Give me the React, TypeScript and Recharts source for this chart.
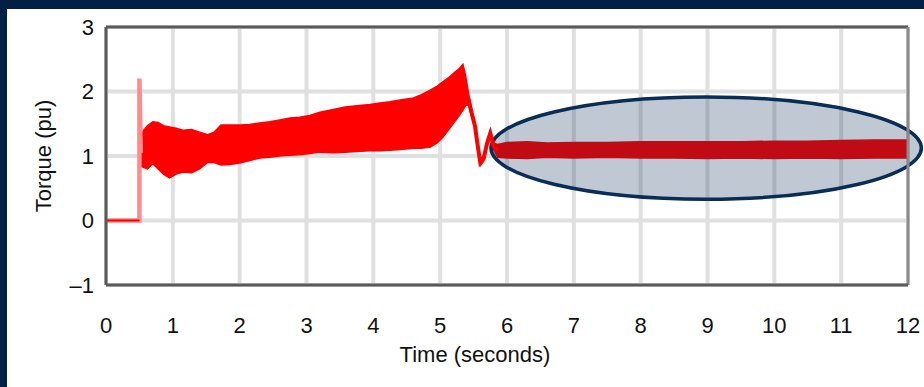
import React from "react";
import {
  ComposedChart,
  Area,
  Line,
  XAxis,
  YAxis,
  CartesianGrid,
  ReferenceLine,
  ReferenceArea,
  Label,
} from "recharts";

// ---- data ----
const xTicks = [0, 1, 2, 3, 4, 5, 6, 7, 8, 9, 10, 11, 12];
const yTicks = [-1, 0, 1, 2, 3];

// oscillating torque envelope (seconds, lower / upper bound in pu)
const bandTime = [
  0.51, 0.55, 0.62, 0.7, 0.78, 0.86, 0.95, 1.05, 1.15, 1.28, 1.4, 1.52, 1.62, 1.72, 1.85, 2.0,
  2.15, 2.3, 2.45, 2.6, 2.75, 2.9, 3.05, 3.2, 3.4, 3.58, 3.75, 3.95, 4.1, 4.25, 4.4, 4.6, 4.72,
  4.85, 4.95, 5.04, 5.12, 5.2, 5.28, 5.34, 5.38, 5.42, 5.47, 5.52, 5.56, 5.6, 5.65, 5.7, 5.75,
  5.8, 5.86, 6.0, 6.3, 6.6, 7.0, 7.5, 8.0, 8.5, 9.0, 9.5, 10.0, 10.5, 11.0, 11.5, 12.0,
];
const bandLow = [
  0.85, 0.83, 0.8, 0.88, 0.8, 0.72, 0.66, 0.72, 0.75, 0.74, 0.8, 0.9, 0.9, 0.86, 0.87, 0.89,
  0.93, 0.97, 0.98, 1.0, 1.01, 1.02, 1.04, 1.06, 1.05, 1.06, 1.07, 1.08, 1.08, 1.09, 1.1, 1.12,
  1.12, 1.14, 1.2, 1.29, 1.4, 1.51, 1.62, 1.71, 1.78, 1.8, 1.62, 1.42, 1.12, 0.85, 0.92, 1.14,
  1.3, 1.1, 0.98, 0.97, 0.96, 0.98, 0.97, 0.98, 0.97, 0.97, 0.96, 0.97, 0.96, 0.97, 0.96, 0.97,
  0.97,
];
const bandHigh = [
  1.3, 1.38, 1.47, 1.53, 1.52, 1.47, 1.45, 1.43, 1.4, 1.41, 1.37, 1.33, 1.37, 1.48, 1.48, 1.48,
  1.49, 1.51, 1.53, 1.56, 1.59, 1.6, 1.63, 1.68, 1.72, 1.76, 1.78, 1.8, 1.82, 1.84, 1.87, 1.9,
  1.95, 2.02, 2.08, 2.15, 2.21, 2.28, 2.35, 2.42, 2.25, 2.0, 1.72, 1.52, 1.22, 0.95, 1.0, 1.24,
  1.4, 1.2, 1.18, 1.21, 1.22, 1.2, 1.21, 1.21, 1.22, 1.22, 1.22, 1.22, 1.23, 1.23, 1.24, 1.25,
  1.25,
];

// single trace after the peak
const traceTime = [5.42, 5.47, 5.52, 5.56, 5.6, 5.65, 5.7, 5.75, 5.8, 5.86];
const traceTorque = [1.9, 1.67, 1.47, 1.17, 0.9, 0.96, 1.19, 1.35, 1.15, 1.08];

// start-up: zero torque, then the step spike
const startTime = [0, 0.5, 0.5, 0.52];
const startTorque = [0, 0, 2.2, 1.05];
const zeroTime = [0, 0.5];
const zeroTorque = [0, 0];

// highlighted steady-state region (data units)
const ellipseTime = [5.76, 12.2];
const ellipseTorque = [0.33, 1.915];

const bandData = bandTime.map((t, i) => ({ t, range: [bandLow[i], bandHigh[i]] }));
const traceData = traceTime.map((t, i) => ({ t, v: traceTorque[i] }));
const startData = startTime.map((t, i) => ({ t, v: startTorque[i] }));
const zeroData = zeroTime.map((t, i) => ({ t, v: zeroTorque[i] }));

const FONT = "'Liberation Sans', Arial, sans-serif";
const NAVY = "#002145";

const EllipseShape = (props: any) => {
  const { x, y, width, height } = props;
  return (
    <ellipse
      cx={x + width / 2}
      cy={y + height / 2}
      rx={width / 2}
      ry={height / 2}
      fill="rgb(3,40,80)"
      fillOpacity={0.25}
      stroke="#0a2d55"
      strokeWidth={3.5}
    />
  );
};

export default function App() {
  return (
    <div
      style={{
        position: "absolute",
        left: 0,
        top: 0,
        width: 924,
        height: 387,
        background: NAVY,
        overflow: "hidden",
      }}
    >
      <div
        style={{
          position: "absolute",
          left: 7,
          top: 9,
          width: 917,
          height: 378,
          background: "#ffffff",
        }}
      />
      <div style={{ position: "absolute", left: 0, top: 0 }}>
        <ComposedChart
          width={924}
          height={387}
          data={bandData}
          margin={{ top: 27, right: 16, left: 46, bottom: 52 }}
        >
          <CartesianGrid stroke="#e0e0e0" strokeWidth={4} />
          <XAxis
            dataKey="t"
            type="number"
            domain={[0, 12]}
            ticks={xTicks}
            interval={0}
            height={50}
            tickSize={6}
            tickMargin={26}
            tickLine={false}
            axisLine={{ stroke: "#5a5a5a", strokeWidth: 3 }}
            tick={{ fill: "#111", fontSize: 22, fontFamily: FONT }}
          >
            <Label
              value="Time (seconds)"
              position="bottom"
              offset={11}
              dx={-32}
              style={{ fill: "#111", fontSize: 22, fontFamily: FONT }}
            />
          </XAxis>
          <YAxis
            type="number"
            domain={[-1, 3]}
            ticks={yTicks}
            interval={0}
            width={60}
            tickSize={6}
            tickMargin={6}
            tickLine={false}
            axisLine={{ stroke: "#5a5a5a", strokeWidth: 3 }}
            tick={{ fill: "#111", fontSize: 22, fontFamily: FONT }}
            tickFormatter={(v: number) => (v < 0 ? "\u2013" + Math.abs(v) : String(v))}
          >
            <Label
              value="Torque (pu)"
              angle={-90}
              position="insideLeft"
              offset={-3}
              style={{ fill: "#111", fontSize: 22, fontFamily: FONT, textAnchor: "middle" }}
            />
          </YAxis>
          <ReferenceLine y={3} stroke="#5a5a5a" strokeWidth={3} />
          <ReferenceLine x={12} stroke="#8a8a8a" strokeWidth={3} />
          <Line
            data={startData}
            dataKey="v"
            stroke="#ff8c8c"
            strokeWidth={4.5}
            dot={false}
            activeDot={false}
            isAnimationActive={false}
            type="linear"
          />
          <Line
            data={zeroData}
            dataKey="v"
            stroke="#ff0000"
            strokeWidth={2}
            dot={false}
            activeDot={false}
            isAnimationActive={false}
            type="linear"
          />
          <Area
            dataKey="range"
            type="linear"
            fill="#ff0000"
            fillOpacity={1}
            stroke="#ff0000"
            strokeWidth={1.5}
            dot={false}
            activeDot={false}
            isAnimationActive={false}
          />
          <Line
            data={traceData}
            dataKey="v"
            stroke="#ff0000"
            strokeWidth={4}
            dot={false}
            activeDot={false}
            isAnimationActive={false}
            type="linear"
          />
          <ReferenceArea
            x1={ellipseTime[0]}
            x2={ellipseTime[1]}
            y1={ellipseTorque[0]}
            y2={ellipseTorque[1]}
            ifOverflow="visible"
            shape={EllipseShape}
          />
        </ComposedChart>
      </div>
    </div>
  );
}
